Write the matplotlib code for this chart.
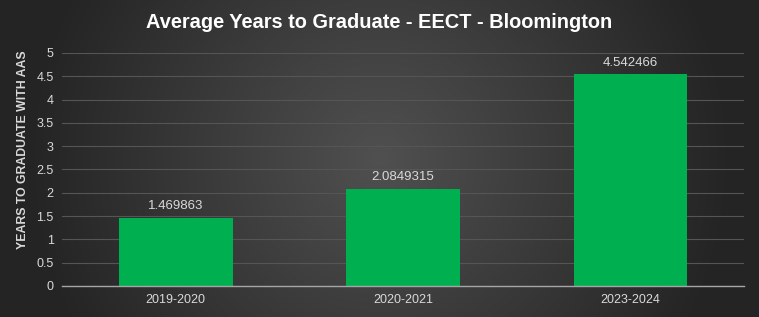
import numpy as np
import matplotlib
matplotlib.use("Agg")
import matplotlib.pyplot as plt

categories = ["2019-2020", "2020-2021", "2023-2024"]
values = [1.469863, 2.0849315, 4.542466]
value_labels = ["1.469863", "2.0849315", "4.542466"]
yticks = [0, 0.5, 1, 1.5, 2, 2.5, 3, 3.5, 4, 4.5, 5]

plt.rcParams['font.family'] = ['Liberation Sans', 'DejaVu Sans']

W, H = 759, 317
fig = plt.figure(figsize=(W / 100, H / 100), dpi=100)

# radial gradient background
bg = fig.add_axes([0, 0, 1, 1])
yy, xx = np.mgrid[0:H, 0:W]
cx, cy = W / 2, H / 2
r = np.sqrt(((xx - cx) / (W * 0.62)) ** 2 + ((yy - cy) / (W * 0.62)) ** 2)
r = np.clip(r / 0.75, 0, 1)
c_in = np.array([0x50, 0x50, 0x50]) / 255
c_out = np.array([0x24, 0x24, 0x24]) / 255
img = c_in[None, None, :] * (1 - r[..., None]) + c_out[None, None, :] * r[..., None]
bg.imshow(img, aspect='auto', extent=[0, 1, 0, 1])
bg.axis('off')

ax = fig.add_axes([62 / W, 1 - 286 / H, (744 - 62) / W, (286 - 53) / H])
ax.set_facecolor('none')
x = np.arange(len(categories))
bars = ax.bar(x, values, width=0.5, color='#00B050', zorder=3)
ax.set_xlim(-0.5, len(categories) - 0.5)
ax.set_ylim(0, 5)
ax.set_yticks(yticks)
ax.set_yticklabels([f"{t:g}" for t in yticks])
ax.set_xticks(x)
ax.set_xticklabels(categories)
ax.grid(axis='y', color='#555555', linewidth=0.8, zorder=0)
ax.tick_params(axis='both', length=0, colors='#d9d9d9', labelsize=9)
ax.tick_params(axis='y', pad=6)
ax.tick_params(axis='x', pad=6)
for s in ['top', 'right', 'left']:
    ax.spines[s].set_visible(False)
ax.spines['bottom'].set_color('#a6a6a6')
ax.spines['bottom'].set_linewidth(1.0)
ax.spines['bottom'].set_zorder(4)

for b, lab in zip(bars, value_labels):
    ax.annotate(lab, (b.get_x() + b.get_width() / 2, b.get_height()),
                xytext=(0, 4), textcoords='offset points', ha='center', va='bottom',
                color='#d9d9d9', fontsize=9.5)

fig.text(23 / W, 1 - 150 / H, "YEARS TO GRADUATE WITH AAS", color='#d9d9d9',
         fontsize=8.8, fontweight='bold', rotation=90, ha='center', va='center')
fig.text(0.5, 1 - 22 / H, "Average Years to Graduate - EECT - Bloomington",
         ha='center', va='center', color='white', fontsize=14.4, fontweight='bold')

fig.savefig("out.png", dpi=100)
